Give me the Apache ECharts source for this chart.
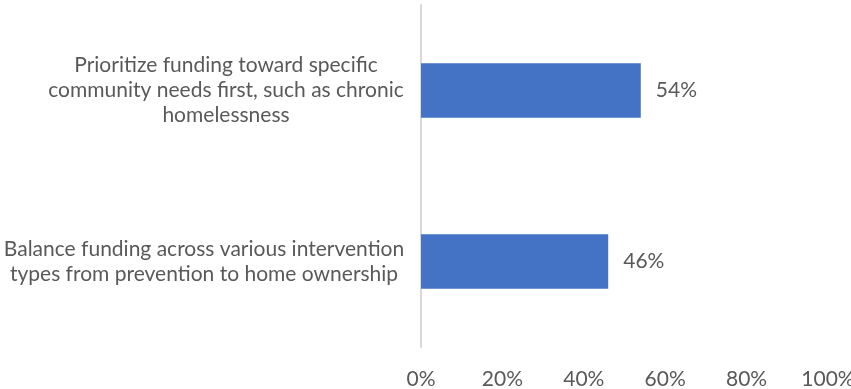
<!DOCTYPE html>
<html>
<head>
<meta charset="utf-8">
<script src="https://cdn.jsdelivr.net/npm/echarts@6/dist/echarts.min.js"></script>
<style>
html,body{margin:0;padding:0;background:#fff;}
#c{width:851px;height:389px;}
</style>
</head>
<body>
<div id="c"></div>
<script>
var categories = [
  "Prioritize funding toward specific\ncommunity needs first, such as chronic\nhomelessness",
  "Balance funding across various intervention\ntypes from prevention to home ownership"
];
var values = [54, 46];
var tickLabels = ["0%", "20%", "40%", "60%", "80%", "100%"];

var FONT = "Lato";
var GRAY = "#595959";
var FS = 21;
var chart = echarts.init(document.getElementById('c'), null, {renderer: 'canvas'});
chart.setOption({
  animation: false,
  grid: {left: 421, right: 23, top: 5, bottom: 42, containLabel: false, outerBoundsMode: 'none'},
  xAxis: {
    type: 'value', min: 0, max: 100, interval: 20,
    axisLine: {show: false}, axisTick: {show: false}, splitLine: {show: false},
    axisLabel: {
      color: GRAY, fontFamily: FONT, fontSize: FS, margin: 22,
      formatter: function (v) { return tickLabels[Math.round(v / 20)]; }
    }
  },
  yAxis: {
    type: 'category', inverse: true,
    data: [
      {value: categories[0], textStyle: {align: 'center', padding: [0, 0, 0, 0]}},
      {value: categories[1], textStyle: {align: 'center', padding: [0, 44, 0, 0]}}
    ],
    axisLine: {show: true, lineStyle: {color: '#d9d9d9', width: 2}},
    axisTick: {show: false},
    axisLabel: {
      color: GRAY, fontFamily: FONT, fontSize: FS, lineHeight: 25,
      align: 'center', margin: 195
    }
  },
  series: [{
    type: 'bar', data: values, barCategoryGap: '68%',
    itemStyle: {color: '#4472C4'},
    label: {
      show: true, position: 'right', distance: 15,
      color: GRAY, fontFamily: FONT, fontSize: FS,
      formatter: function (p) { return p.value + '%'; }
    }
  }]
});
</script>
</body>
</html>
